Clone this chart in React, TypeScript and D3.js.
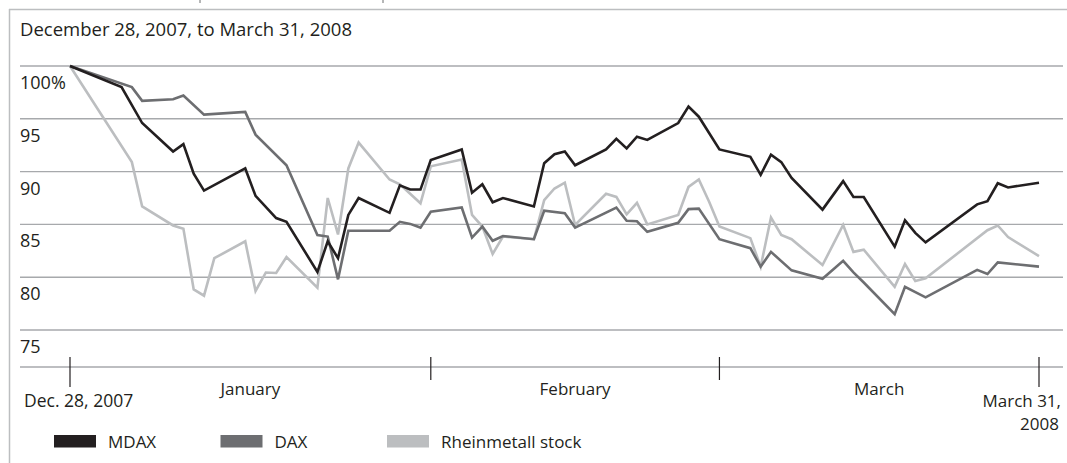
import React from 'react';
import * as d3 from 'd3';

// Index levels, Dec. 28, 2007 = 100
const mdaxDays = [
  '2007-12-28', '2008-01-02', '2008-01-04', '2008-01-07', '2008-01-08', '2008-01-09', '2008-01-10',
  '2008-01-14', '2008-01-15', '2008-01-17', '2008-01-18', '2008-01-21', '2008-01-22', '2008-01-23',
  '2008-01-24', '2008-01-25', '2008-01-28', '2008-01-29', '2008-01-30', '2008-01-31', '2008-02-01',
  '2008-02-04', '2008-02-05', '2008-02-06', '2008-02-07', '2008-02-08', '2008-02-11', '2008-02-12',
  '2008-02-13', '2008-02-14', '2008-02-15', '2008-02-18', '2008-02-19', '2008-02-20', '2008-02-21',
  '2008-02-22', '2008-02-25', '2008-02-26', '2008-02-27', '2008-02-29', '2008-03-03', '2008-03-04',
  '2008-03-05', '2008-03-06', '2008-03-07', '2008-03-10', '2008-03-12', '2008-03-13', '2008-03-14',
  '2008-03-17', '2008-03-18', '2008-03-19', '2008-03-20', '2008-03-25', '2008-03-26', '2008-03-27',
  '2008-03-28', '2008-03-31',
];
const mdaxValues = [
  100, 98.0, 94.6, 91.9, 92.6, 89.8, 88.2,
  90.3, 87.7, 85.6, 85.25, 80.5, 83.4, 81.8,
  85.9, 87.5, 86.1, 88.7, 88.3, 88.3, 91.1,
  92.1, 88.0, 88.8, 87.1, 87.5, 86.7, 90.8,
  91.65, 91.9, 90.6, 92.1, 93.1, 92.2, 93.3,
  93.0, 94.6, 96.15, 95.2, 92.1, 91.4, 89.7,
  91.6, 90.9, 89.4, 86.4, 89.1, 87.6, 87.6,
  82.9, 85.4, 84.2, 83.3, 86.9, 87.2, 88.9,
  88.5, 88.95,
];

const daxDays = [
  '2007-12-28', '2008-01-03', '2008-01-04', '2008-01-07', '2008-01-08', '2008-01-10', '2008-01-14',
  '2008-01-15', '2008-01-18', '2008-01-21', '2008-01-22', '2008-01-23', '2008-01-24', '2008-01-28',
  '2008-01-29', '2008-01-30', '2008-01-31', '2008-02-01', '2008-02-04', '2008-02-05', '2008-02-06',
  '2008-02-07', '2008-02-08', '2008-02-11', '2008-02-12', '2008-02-14', '2008-02-15', '2008-02-19',
  '2008-02-20', '2008-02-21', '2008-02-22', '2008-02-25', '2008-02-26', '2008-02-27', '2008-02-29',
  '2008-03-03', '2008-03-04', '2008-03-05', '2008-03-07', '2008-03-10', '2008-03-12', '2008-03-13',
  '2008-03-14', '2008-03-17', '2008-03-18', '2008-03-20', '2008-03-25', '2008-03-26', '2008-03-27',
  '2008-03-31',
];
const daxValues = [
  100, 98.0, 96.7, 96.85, 97.2, 95.4, 95.65,
  93.5, 90.6, 84.0, 83.85, 79.8, 84.4, 84.4,
  85.25, 85.05, 84.7, 86.2, 86.6, 83.75, 84.8,
  83.45, 83.9, 83.6, 86.3, 86.05, 84.7, 86.6,
  85.35, 85.3, 84.3, 85.15, 86.45, 86.5, 83.6,
  82.75, 81.0, 82.4, 80.65, 79.85, 81.55, 80.45,
  79.5, 76.5, 79.1, 78.1, 80.7, 80.3, 81.4,
  81.0,
];

const rheinDays = [
  '2007-12-28', '2008-01-03', '2008-01-04', '2008-01-07', '2008-01-08', '2008-01-09', '2008-01-10',
  '2008-01-11', '2008-01-14', '2008-01-15', '2008-01-16', '2008-01-17', '2008-01-18', '2008-01-21',
  '2008-01-22', '2008-01-23', '2008-01-24', '2008-01-25', '2008-01-28', '2008-01-29', '2008-01-31',
  '2008-02-01', '2008-02-04', '2008-02-05', '2008-02-06', '2008-02-07', '2008-02-08', '2008-02-11',
  '2008-02-12', '2008-02-13', '2008-02-14', '2008-02-15', '2008-02-18', '2008-02-19', '2008-02-20',
  '2008-02-21', '2008-02-22', '2008-02-25', '2008-02-26', '2008-02-27', '2008-02-28', '2008-02-29',
  '2008-03-03', '2008-03-04', '2008-03-05', '2008-03-06', '2008-03-07', '2008-03-10', '2008-03-12',
  '2008-03-13', '2008-03-14', '2008-03-17', '2008-03-18', '2008-03-19', '2008-03-20', '2008-03-26',
  '2008-03-27', '2008-03-28', '2008-03-31',
];
const rheinValues = [
  100, 90.9, 86.7, 84.9, 84.6, 78.85, 78.25,
  81.8, 83.4, 78.7, 80.45, 80.4, 81.9, 79.0,
  87.5, 84.05, 90.3, 92.75, 89.25, 88.8, 87.0,
  90.5, 91.15, 85.9, 84.8, 82.2, 83.85, 83.6,
  87.3, 88.4, 88.95, 84.95, 87.9, 87.6, 85.95,
  87.05, 85.0, 85.9, 88.55, 89.25, 87.15, 84.8,
  83.7, 81.0, 85.65, 84.0, 83.6, 81.15, 84.95,
  82.4, 82.6, 79.1, 81.25, 79.65, 79.9, 84.45,
  84.9, 83.8, 82.0,
];

const yTicks = [75, 80, 85, 90, 95, 100];
const tickDays = ['2007-12-28', '2008-02-01', '2008-02-29', '2008-03-31'];
const monthLabels = ['January', 'February', 'March'];
const seriesNames = ['MDAX', 'DAX', 'Rheinmetall stock'];
const seriesColors = ['#231f20', '#6d6e71', '#bcbec0'];

const title = 'December 28, 2007, to March 31, 2008';

const parse = d3.utcParse('%Y-%m-%d');

const W = 1067;
const H = 463;
const font = "'Open Sans', 'DejaVu Sans', sans-serif";

const App = () => {
  const x = d3.scaleUtc()
    .domain([parse(tickDays[0]) as Date, parse(tickDays[tickDays.length - 1]) as Date])
    .range([70, 1039]);
  const y = d3.scaleLinear().domain([71.5, 100]).range([367, 66]);

  const series = [
    { days: mdaxDays, values: mdaxValues },
    { days: daxDays, values: daxValues },
    { days: rheinDays, values: rheinValues },
  ].map((s, i) => ({
    name: seriesNames[i],
    color: seriesColors[i],
    points: s.days.map((d, j) => ({ date: parse(d) as Date, value: s.values[j] })),
  }));

  const line = d3.line<{ date: Date; value: number }>()
    .x(d => x(d.date))
    .y(d => y(d.value));

  const tickX = tickDays.map(d => x(parse(d) as Date));
  const gridLeft = 20;
  const gridRight = 1063;

  return (
    <svg width={W} height={H} style={{ position: 'absolute', left: 0, top: 0, background: '#fff' }}
      fontFamily={font}>
      {/* frame */}
      <line x1={9} x2={W} y1={9.5} y2={9.5} stroke="#bcbec0" strokeWidth={1.5} />
      <line x1={9.5} x2={9.5} y1={9} y2={H} stroke="#bcbec0" strokeWidth={1.5} />
      <line x1={200} x2={200} y1={0} y2={3} stroke="#6d6e71" strokeWidth={1} />
      <line x1={383} x2={383} y1={0} y2={3} stroke="#6d6e71" strokeWidth={1} />

      <text x={20} y={36} fontSize={18.5} fill="#231f20">{title}</text>

      {/* horizontal grid and y labels */}
      {yTicks.map(t => (
        <g key={t}>
          <line x1={gridLeft} x2={gridRight} y1={y(t)} y2={y(t)} stroke="#a7a9ac" strokeWidth={1.4} />
          <text x={20} y={y(t) + 23} fontSize={18} fill="#231f20">{t === 100 ? '100%' : t}</text>
        </g>
      ))}

      {/* x axis */}
      <line x1={gridLeft} x2={gridRight} y1={y(71.5)} y2={y(71.5)} stroke="#a7a9ac" strokeWidth={1.4} />
      {tickX.map((tx, i) => {
        const isEnd = i === 0 || i === tickX.length - 1;
        return (
          <line key={i} x1={tx} x2={tx} y1={357} y2={isEnd ? 387 : 380} stroke="#231f20" strokeWidth={1.2} />
        );
      })}
      {monthLabels.map((m, i) => (
        <text key={m} x={(tickX[i] + tickX[i + 1]) / 2} y={395} fontSize={17} fill="#231f20"
          textAnchor="middle">{m}</text>
      ))}
      <text x={tickX[0] - 46} y={407} fontSize={17.5} fill="#231f20">Dec. 28, 2007</text>
      <text x={1061} y={407} fontSize={17} fill="#231f20" textAnchor="end">March 31,</text>
      <text x={1059} y={430} fontSize={17} fill="#231f20" textAnchor="end">2008</text>

      {/* lines */}
      {series.slice().reverse().map(s => (
        <path key={s.name} d={line(s.points) || ''} fill="none" stroke={s.color} strokeWidth={2.6}
          strokeLinejoin="miter" strokeMiterlimit={4} />
      ))}

      {/* legend */}
      {series.map((s, i) => (
        <g key={s.name} transform={`translate(${54 + i * 166.5},435)`}>
          <rect x={0} y={0} width={42} height={12.5} fill={s.color} />
          <text x={54} y={12.5} fontSize={17} fill="#231f20">{s.name}</text>
        </g>
      ))}
    </svg>
  );
};

export default App;
